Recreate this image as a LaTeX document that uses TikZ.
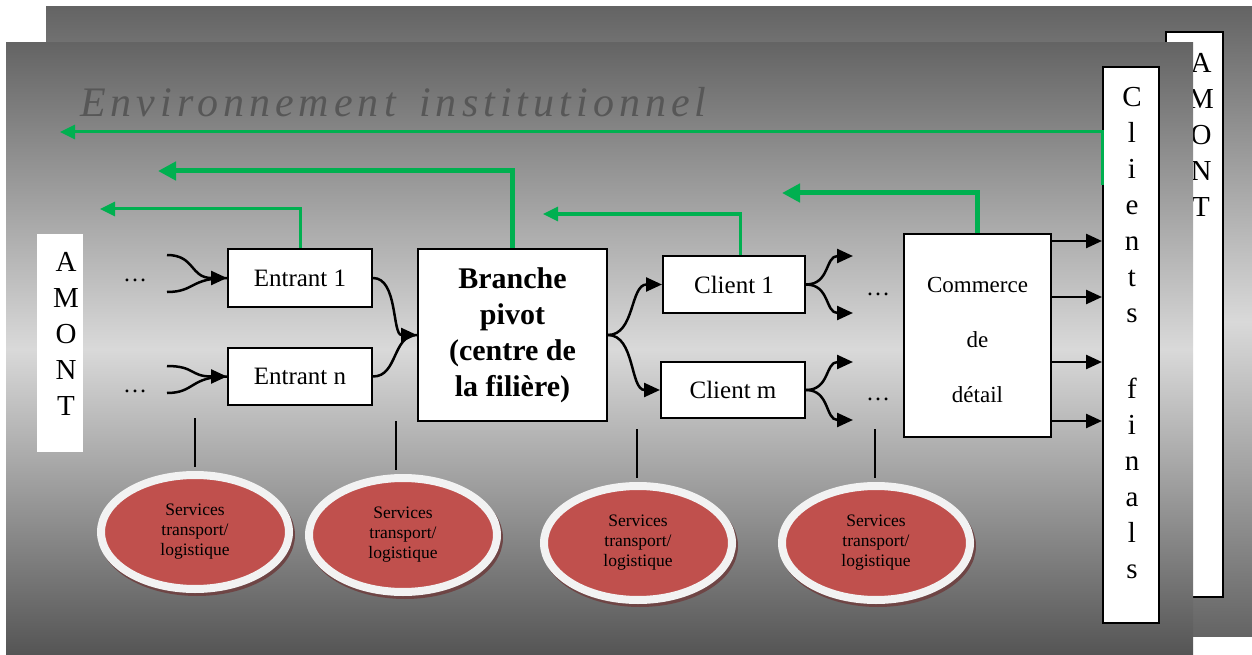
\documentclass[tikz,border=0pt]{standalone}
\usepackage{fontspec}
\setmainfont{Liberation Serif}
\usetikzlibrary{arrows.meta,shadows,shapes.geometric}
\definecolor{grn}{HTML}{00B050}
\definecolor{gdark}{HTML}{646464}
\definecolor{glight}{HTML}{D9D9D9}
\definecolor{ered}{HTML}{C0504D}
\definecolor{ering}{HTML}{F2F2F2}
\definecolor{eshadow}{HTML}{6E4545}
\definecolor{envtxt}{HTML}{575757}
\begin{document}
\begin{tikzpicture}[x=1bp,y=-1bp,
  box/.style={draw=black,line width=2bp,fill=white,inner sep=0pt},
  plainbox/.style={fill=white,inner sep=0pt},
  lbl/.style={inner sep=0pt,align=center},
  barrow/.style={line width=2.5bp,-{Triangle[length=16bp,width=14bp]}},
  bline/.style={line width=2.5bp},
  tline/.style={line width=2bp},
  garrow/.style={draw=grn,line width=3bp,-{Triangle[length=15bp,width=14bp]}},
  gthick/.style={draw=grn,line width=5bp,-{Triangle[length=18bp,width=18bp]}},
  svc/.style={ellipse,draw=ering,line width=8bp,fill=ered,minimum width=188bp,minimum height=114bp,inner sep=0pt,align=center,
    font=\fontsize{17.5bp}{20bp}\selectfont,
    drop shadow={shadow xshift=2bp,shadow yshift=-3bp,fill=eshadow,draw=eshadow,line width=8bp,opacity=1}},
  bigletters/.style={lbl,font=\fontsize{29bp}{36bp}\selectfont},
  mid/.style={font=\fontsize{25bp}{30bp}\selectfont},
  dots/.style={anchor=base,inner sep=0pt,font=\fontsize{24bp}{28bp}\selectfont}
]
\useasboundingbox (0,0) rectangle (1252,655);
\fill[white] (0,0) rectangle (1252,655);
% back panel
\shade[top color=gdark,bottom color=gdark,middle color=glight] (46,7) rectangle (1252,636);
\node[box,minimum width=57bp,minimum height=565bp] (amR) at (1194.5,314.5) {};
\node[bigletters] (amRt) at (1201,135) {A\\M\\O\\N\\T};
% front panel
\shade[top color=gdark,bottom color=gdark!110,middle color=glight] (6,43) rectangle (1193,655);
\node[anchor=base west,inner sep=0pt,text=envtxt,font=\fontsize{42bp}{50bp}\selectfont\itshape] (env) at (80,117)
  {\addfontfeature{LetterSpace=12}Environnement\hspace{8bp} institutionnel};
% left AMONT
\node[plainbox,minimum width=46bp,minimum height=218bp] (amL) at (60,343) {};
\node[bigletters] (amLt) at (66,334) {A\\M\\O\\N\\T};
% boxes
\node[box,mid,minimum width=144bp,minimum height=58bp] (e1) at (300,278) {Entrant 1};
\node[box,mid,minimum width=144bp,minimum height=57bp] (en) at (300,376.5) {Entrant n};
\node[box,align=center,font=\fontsize{30bp}{36bp}\selectfont\bfseries,minimum width=189bp,minimum height=172bp] (bp) at (512.5,335)
  {Branche\\pivot\\(centre de\\la filière)};
\node[box,mid,minimum width=142bp,minimum height=57bp] (c1) at (734,284.5) {Client 1};
\node[box,mid,minimum width=144bp,minimum height=56bp] (cm) at (733,390) {Client m};
\node[box,minimum width=147bp,minimum height=203bp] (cd) at (977.5,335.5) {};
\node[lbl,font=\fontsize{23bp}{55bp}\selectfont] (cdt) at (977.5,340) {Commerce\\de\\détail};
\node[box,minimum width=56bp,minimum height=556bp] (cf) at (1131,345) {};
\node[bigletters] (cft) at (1132,333) {C\\l\\i\\e\\n\\t\\s\\[4bp]\\f\\i\\n\\a\\l\\s};
% dots
\node[dots] (d1) at (135,281) {…};
\node[dots] (d2) at (135,392) {…};
\node[dots] (d3) at (878,295) {…};
\node[dots] (d4) at (878,400) {…};
% left inputs
\coordinate (a1) at (167,255);
\coordinate (a2) at (167,292);
\coordinate (a3) at (167,366);
\coordinate (a4) at (167,393);
\draw[bline] (a2) .. controls (195,292) and (190,278) .. (e1.west);
\draw[barrow] (a1) .. controls (195,255) and (190,278) .. (e1.west);
\draw[bline] (a4) .. controls (195,393) and (190,376.5) .. (en.west);
\draw[barrow] (a3) .. controls (195,366) and (190,376.5) .. (en.west);
% entrants to pivot
\draw[bline] (en.east) .. controls (398,376.5) and (392,335) .. (bp.west);
\draw[barrow] (e1.east) .. controls (398,278) and (392,335) .. (bp.west);
% pivot to clients
\draw[barrow] (bp.east) .. controls (635,335) and (630,284.5) .. (c1.west);
\draw[barrow] (bp.east) .. controls (635,335) and (630,390) .. (cm.west);
% client outputs
\coordinate (o1) at (853,256);
\coordinate (o2) at (853,313);
\coordinate (o3) at (853,362);
\coordinate (o4) at (853,420);
\draw[barrow] (c1.east) .. controls (830,284.5) and (825,256) .. (o1);
\draw[barrow] (c1.east) .. controls (830,284.5) and (825,313) .. (o2);
\draw[barrow] (cm.east) .. controls (830,390) and (825,362) .. (o3);
\draw[barrow] (cm.east) .. controls (830,390) and (825,420) .. (o4);
% commerce to clients finals
\coordinate (h1) at (0,241);
\coordinate (h2) at (0,297);
\coordinate (h3) at (0,362);
\coordinate (h4) at (0,421);
\foreach \h in {h1,h2,h3,h4}{\draw[barrow] (cd.east |- \h) -- (cf.west |- \h);}
% green feedback arrows
\coordinate (g1) at (100,209);
\coordinate (g2) at (158,171);
\coordinate (g3) at (543,214);
\coordinate (g4) at (782,193);
\coordinate (g5) at (60,132);
\coordinate (g5s) at (0,185);
\draw[garrow] (e1.north) |- (g1);
\draw[gthick] (bp.north) |- (g2);
\draw[garrow] ([xshift=6bp]c1.north) |- (g3);
\draw[gthick] (cd.north) |- (g4);
\draw[garrow] (cf.west |- g5s) |- (g5);
% services
\node[svc] (s1) at (195,532) {Services\\transport/\\logistique};
\node[svc] (s2) at (403,535) {Services\\transport/\\logistique};
\node[svc] (s3) at (638,543) {Services\\transport/\\logistique};
\node[svc] (s4) at (876,543) {Services\\transport/\\logistique};
\coordinate (t1) at (195,418);
\coordinate (t2) at (396,421);
\coordinate (t3) at (637,429);
\coordinate (t4) at (875,429);
\draw[tline] (t1) -- ([yshift=4bp]t1 |- s1.north);
\draw[tline] (t2) -- ([yshift=4bp]t2 |- s2.north);
\draw[tline] (t3) -- ([yshift=4bp]t3 |- s3.north);
\draw[tline] (t4) -- ([yshift=4bp]t4 |- s4.north);
\end{tikzpicture}
\end{document}
